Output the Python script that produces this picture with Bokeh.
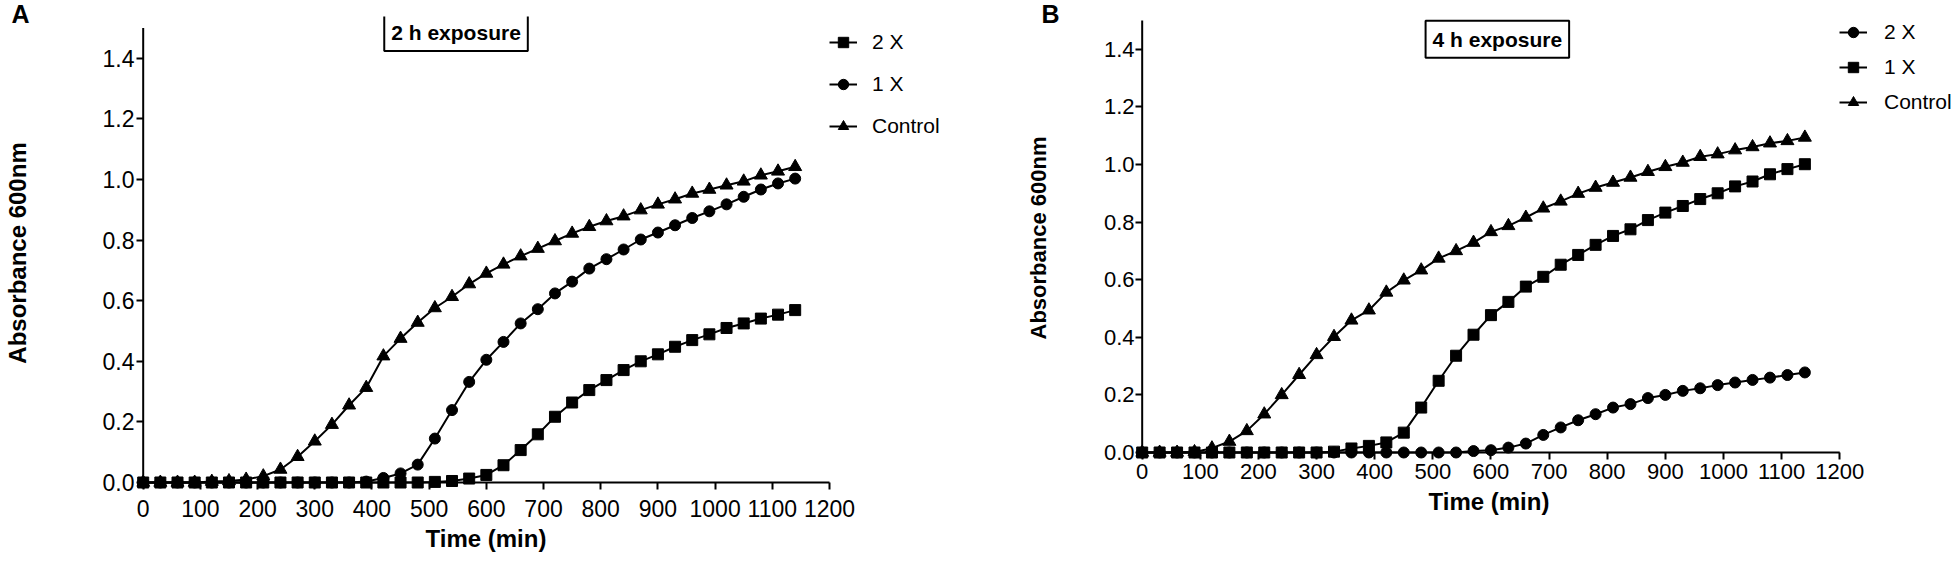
from bokeh.plotting import figure
from bokeh.models import (Range1d, FixedTicker, PrintfTickFormatter, Legend,
                          LegendItem, Label, Title)
from bokeh.layouts import row
from bokeh.embed import file_html
from bokeh.resources import INLINE

# ---------------- data ----------------
time_min = [0, 30, 60, 90, 120, 150, 180, 210, 240, 270, 300, 330, 360, 390,
            420, 450, 480, 510, 540, 570, 600, 630, 660, 690, 720, 750, 780,
            810, 840, 870, 900, 930, 960, 990, 1020, 1050, 1080, 1110, 1140]

# Panel A: 2 h exposure
a_2x = [0, 0, 0, 0, 0, 0, 0, 0, 0, 0, 0, 0, 0, 0, 0, 0, 0,
        0.002, 0.005, 0.013, 0.025, 0.057, 0.107, 0.159, 0.217, 0.264, 0.305,
        0.338, 0.371, 0.400, 0.423, 0.448, 0.470, 0.489, 0.510, 0.525, 0.541,
        0.554, 0.569]
a_1x = [0, 0, 0, 0, 0, 0, 0, 0, 0, 0, 0, 0, 0,
        0.003, 0.015, 0.030, 0.059, 0.145, 0.239, 0.332, 0.405, 0.464, 0.525,
        0.572, 0.624, 0.663, 0.706, 0.737, 0.769, 0.802, 0.825, 0.849, 0.873,
        0.895, 0.918, 0.943, 0.967, 0.987, 1.003]
a_ctrl = [0, 0, 0, 0, 0.003, 0.005, 0.010, 0.021, 0.043, 0.085, 0.136, 0.191,
          0.255, 0.313, 0.417, 0.475, 0.528, 0.576, 0.613, 0.655, 0.690, 0.720,
          0.747, 0.772, 0.797, 0.822, 0.844, 0.863, 0.879, 0.899, 0.918, 0.935,
          0.954, 0.967, 0.981, 0.994, 1.014, 1.027, 1.042]

# Panel B: 4 h exposure
b_2x = [0, 0, 0, 0, 0, 0, 0, 0, 0, 0, 0, 0, 0, 0, 0, 0, 0, 0, 0,
        0.005, 0.008, 0.017, 0.031, 0.061, 0.087, 0.112, 0.133, 0.156, 0.168,
        0.189, 0.200, 0.214, 0.223, 0.234, 0.243, 0.252, 0.260, 0.269, 0.278]
b_1x = [0, 0, 0, 0, 0, 0, 0, 0, 0, 0, 0,
        0.003, 0.014, 0.023, 0.035, 0.069, 0.156, 0.249, 0.336, 0.409, 0.477,
        0.523, 0.576, 0.610, 0.652, 0.686, 0.721, 0.752, 0.775, 0.807, 0.833,
        0.856, 0.880, 0.900, 0.924, 0.941, 0.966, 0.984, 1.001]
b_ctrl = [0, 0, 0, 0.002, 0.015, 0.038, 0.075, 0.133, 0.200, 0.270, 0.339,
          0.402, 0.459, 0.494, 0.556, 0.598, 0.633, 0.674, 0.700, 0.729, 0.766,
          0.787, 0.816, 0.848, 0.872, 0.899, 0.920, 0.9375, 0.955, 0.975, 0.992,
          1.007, 1.027, 1.036, 1.050, 1.061, 1.074, 1.082, 1.094]

x_ticks = [0, 100, 200, 300, 400, 500, 600, 700, 800, 900, 1000, 1100, 1200]
y_ticks = [0.0, 0.2, 0.4, 0.6, 0.8, 1.0, 1.2, 1.4]
y_top = 1.5

FONT = "Liberation Sans"


def make_panel(cfg):
    p = figure(frame_width=cfg["fw"], frame_height=cfg["fh"],
               x_range=Range1d(cfg["x0"], cfg["x1"]),
               y_range=Range1d(cfg["y0"], cfg["y1"]),
               output_backend="svg", toolbar_location=None,
               min_border_left=cfg["bl"], min_border_right=cfg["br"],
               min_border_top=cfg["bt"], min_border_bottom=cfg["bb"])
    p.outline_line_color = None
    p.xgrid.visible = False
    p.ygrid.visible = False
    p.background_fill_color = "white"
    p.border_fill_color = "white"

    xa = p.xaxis[0]
    ya = p.yaxis[0]
    xa.ticker = FixedTicker(ticks=x_ticks)
    ya.ticker = FixedTicker(ticks=y_ticks)
    ya.formatter = PrintfTickFormatter(format="%.1f")
    xa.bounds = (x_ticks[0], x_ticks[-1])
    ya.bounds = (y_ticks[0], y_top)
    for ax in (xa, ya):
        ax.axis_line_color = None
        ax.major_tick_line_width = 2
        ax.major_tick_line_color = "black"
        ax.major_tick_out = 0
        ax.major_tick_in = 7
        ax.minor_tick_line_color = None
        ax.major_label_text_font = FONT
        ax.major_label_text_font_size = cfg["tick_fs"]
        ax.major_label_text_color = "black"
        ax.axis_label_text_font = FONT
        ax.axis_label_text_font_style = "bold"
        ax.axis_label_text_font_size = cfg["ylab_fs"]
        ax.axis_label_text_color = "black"
    ya.axis_label = "Absorbance 600nm"
    xa.major_label_standoff = cfg["x_std"]
    ya.major_label_standoff = cfg["y_std"]
    ya.axis_label_standoff = cfg["y_lstd"]

    # x-axis title, centred under the 0-1200 axis line
    p.add_layout(Title(text="Time (min)", align="left", offset=cfg["xl_off"],
                       standoff=cfg["xl_std"], vertical_align="top",
                       text_font=FONT, text_font_style="bold",
                       text_font_size=cfg["xlab_fs"], text_color="black"),
                 "below")

    # axis lines drawn at the data origin
    p.segment(x0=[x_ticks[0]], y0=[y_ticks[0]], x1=[x_ticks[-1]], y1=[y_ticks[0]],
              line_color="black", line_width=2)
    p.segment(x0=[x_ticks[0]], y0=[y_ticks[0]], x1=[x_ticks[0]], y1=[y_top],
              line_color="black", line_width=2)

    items = []
    for label, ys, marker, msize in cfg["series"]:
        lr = p.line(time_min, ys, line_color="black", line_width=2)
        sr = p.scatter(time_min, ys, marker=marker, size=msize,
                       fill_color="black", line_color="black", line_width=1)
        items.append(LegendItem(label=label, renderers=[lr, sr]))

    legend = Legend(items=items, location=cfg["leg_loc"],
                    glyph_width=28, glyph_height=26, label_height=26,
                    label_standoff=cfg["leg_std"], spacing=cfg["leg_sp"],
                    padding=cfg["leg_pad"], margin=0,
                    label_text_font=FONT, label_text_font_size=cfg["leg_fs"],
                    label_text_color="black",
                    border_line_color=None, background_fill_alpha=0)
    p.add_layout(legend)

    p.add_layout(Label(x=cfg["title_x"], y=cfg["title_y"], text=cfg["title"],
                       text_align="center", text_baseline="middle",
                       text_font=FONT, text_font_style="bold",
                       text_font_size="21px", text_color="black",
                       padding=7, border_line_color="black",
                       border_line_width=2, background_fill_color="white"))
    p.add_layout(Title(text=cfg["letter"], align="left", offset=cfg["let_off"],
                       standoff=cfg["let_std"], vertical_align="middle",
                       text_font=FONT, text_font_style="bold",
                       text_font_size="25px", text_color="black"), "above")
    return p


cfg_a = dict(fw=868, fh=473, bl=131, br=1, bt=16, bb=78,
             x0=-11.7, x1=1506.0, y0=-0.0231, y1=1.538,
             tick_fs="23px", ylab_fs="24px", xlab_fs="24px",
             x_std=10, y_std=2, y_lstd=69, xl_off=289, xl_std=11,
             series=[("2 X", a_2x, "square", 11), ("1 X", a_1x, "circle", 11),
                     ("Control", a_ctrl, "triangle", 13)],
             leg_loc=(693, 350), leg_std=15, leg_sp=16, leg_pad=3,
             leg_fs="21px",
             title="2 h exposure", title_x=547, title_y=1.485,
             letter="A", let_off=-125, let_std=-25)

cfg_b = dict(fw=823, fh=443, bl=130, br=2, bt=16, bb=78,
             x0=-11.5, x1=1404.3, y0=-0.0243, y1=1.5139,
             tick_fs="22px", ylab_fs="22px", xlab_fs="24px",
             x_std=4, y_std=1, y_lstd=50, xl_off=293, xl_std=13,
             series=[("2 X", b_2x, "circle", 11), ("1 X", b_1x, "square", 11),
                     ("Control", b_ctrl, "triangle", 13)],
             leg_loc=(704, 344), leg_std=17, leg_sp=9, leg_pad=5,
             leg_fs="21px",
             title="4 h exposure", title_x=611, title_y=1.435,
             letter="B", let_off=-94, let_std=-25)

pa = make_panel(cfg_a)
pb = make_panel(cfg_b)
layout = row(pa, pb)

with open("out.html", "w") as f:
    f.write(file_html(layout, INLINE))
